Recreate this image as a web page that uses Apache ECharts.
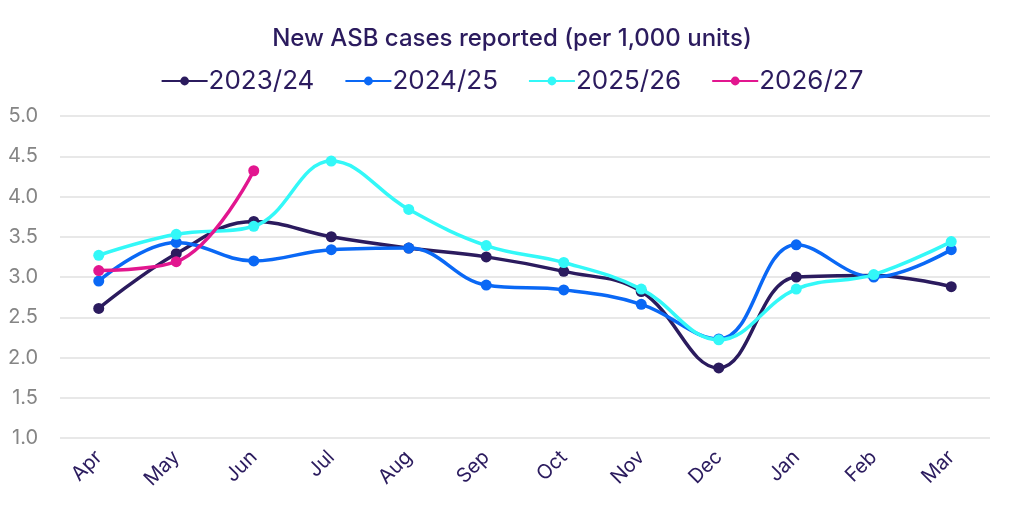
<!DOCTYPE html>
<html lang="en">
<head>
  <meta charset="UTF-8">
  <title>New ASB cases reported</title>
  <script src="https://cdn.jsdelivr.net/npm/echarts@6/dist/echarts.min.js"></script>
  <style>
    html, body { margin: 0; padding: 0; background: #fff; }
    #main { width: 1024px; height: 512px; }
  </style>
</head>
<body>
  <div id="main"></div>
  <script type="text/javascript">
    // months of the year (Apr-Mar)
    var months = ['Apr', 'May', 'Jun', 'Jul', 'Aug', 'Sep', 'Oct', 'Nov', 'Dec', 'Jan', 'Feb', 'Mar'];
    var seriesNames = ['2023/24', '2024/25', '2025/26', '2026/27'];
    var colors = ['#2b1b5e', '#0a68f5', '#33f8f8', '#e2168f'];

    var y2023 = [2.61, 3.29, 3.69, 3.50, 3.36, 3.25, 3.07, 2.82, 1.87, 3.00, 3.02, 2.88];
    var y2024 = [2.95, 3.43, 3.20, 3.34, 3.36, 2.90, 2.84, 2.66, 2.23, 3.40, 3.00, 3.34];
    var y2025 = [3.27, 3.53, 3.63, 4.44, 3.84, 3.39, 3.18, 2.85, 2.22, 2.85, 3.03, 3.44];
    var y2026 = [3.08, 3.19, 4.32];

    var yTicks = ['1.0', '1.5', '2.0', '2.5', '3.0', '3.5', '4.0', '4.5', '5.0'];

    var allData = [y2023, y2024, y2025, y2026];
    var navy = '#2b1b5e';
    var font = 'Inter, "Noto Sans", sans-serif';

    var myChart = echarts.init(document.getElementById('main'));

    var series = seriesNames.map(function (name, i) {
      return {
        name: name,
        type: 'line',
        smooth: 0.4,
        data: allData[i],
        symbol: 'circle',
        symbolSize: 11,
        lineStyle: { width: 3.5, color: colors[i] },
        itemStyle: { color: colors[i] },
        z: 2 + (i === 3 ? 3 : i)
      };
    });

    myChart.setOption({
      animation: false,
      color: colors,
      title: {
        text: 'New ASB cases reported (per 1,000 units)',
        left: 'center',
        top: 22,
        textStyle: { fontFamily: font, fontSize: 24, fontWeight: 500, color: navy }
      },
      legend: {
        data: seriesNames,
        top: 63,
        left: 'center',
        itemWidth: 46,
        itemHeight: 11,
        itemGap: 30,
        textStyle: { fontFamily: font, fontSize: 26, color: navy, padding: [0, 0, 0, -4] }
      },
      grid: { left: 60, right: 34, top: 116, bottom: 74, containLabel: false },
      xAxis: {
        type: 'category',
        data: months,
        boundaryGap: true,
        axisLine: { show: false },
        axisTick: { show: false },
        axisLabel: {
          rotate: 45,
          fontFamily: font,
          fontSize: 20,
          color: navy,
          margin: 16
        }
      },
      yAxis: {
        type: 'value',
        min: 1,
        max: 5,
        interval: 0.5,
        axisLine: { show: false },
        axisTick: { show: false },
        splitLine: { lineStyle: { color: '#e0e0e0', width: 1.5 } },
        axisLabel: {
          fontFamily: font,
          fontSize: 20,
          color: '#858585',
          margin: 22,
          formatter: function (v) {
            var idx = Math.round((v - 1) / 0.5);
            return yTicks[idx] !== undefined ? yTicks[idx] : v.toFixed(1);
          }
        }
      },
      series: series
    });
  </script>
</body>
</html>
